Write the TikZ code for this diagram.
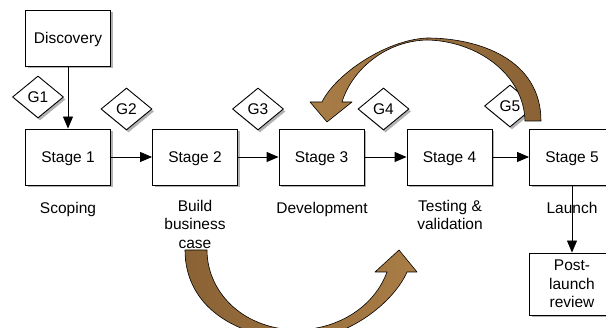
\documentclass[tikz,border=0pt]{standalone}
\usepackage{fontspec}
\setmainfont{Liberation Sans}
\usetikzlibrary{arrows.meta,shapes.geometric,shadows,positioning}
\definecolor{lightbrown}{HTML}{A97D46}
\definecolor{darkbrown}{HTML}{8A6235}
\tikzset{
	box/.style={rectangle,draw,fill=white,line width=0.9pt,minimum width=85pt,minimum height=56pt,inner sep=2pt,align=center,drop shadow={shadow xshift=2pt,shadow yshift=-2.5pt,fill=black,opacity=0.3}},
	stage/.style={box,text height=11pt,text depth=0pt},
	gate/.style={diamond,draw,fill=white,line width=0.9pt,minimum width=51pt,minimum height=42pt,inner sep=0pt,drop shadow={shadow xshift=2pt,shadow yshift=-2.5pt,fill=black,opacity=0.3}},
	steplabel/.style={anchor=north,inner sep=0pt,align=center,execute at begin node=\strut},
	flow/.style={-{Triangle[length=12pt,width=10pt]},line width=0.9pt},
	loopback/.style={draw=black,line width=0.6pt,line join=round}
}

\begin{document}
\begin{tikzpicture}[x=1pt,y=-1pt,font=\fontsize{15.5}{18.5}\selectfont]
	\useasboundingbox (0,0) rectangle (606,328);
	%%%gates
	\node[gate] (g1) at (38,97) {G1};
	\node[gate] (g2) at (126.5,109) {G2};
	\node[gate] (g3) at (258,109) {G3};
	\node[gate] (g4) at (383.5,109) {G4};
	\node[gate] (g5) at (510,106) {G5};
	
	%%%stages
	\node[stage] (disc) at (68,38) {Discovery};
	\node[stage] (st1) at (68,157) {Stage 1};
	\node[stage] (st2) at (195,157) {Stage 2};
	\node[stage] (st3) at (321.5,157) {Stage 3};
	\node[stage] (st4) at (449.5,157) {Stage 4};
	\node[stage] (st5) at (572,157) {Stage 5};
	\node[box,minimum height=62pt] (post) at (572,284) {Post-\\launch\\review};
	
	\node[steplabel] (lab1) at (68,200) {Scoping};
	\node[steplabel] (lab2) at (195,200) {Build\\business\\case};
	\node[steplabel] (lab3) at (322,200) {Development};
	\node[steplabel] (lab4) at (450,200) {Testing \&\\validation};
	\node[steplabel] (lab5) at (572,200) {Launch};
	
	\draw[flow] (disc) -- (st1);
	\draw[flow] (st1) -- (st2);
	\draw[flow] (st2) -- (st3);
	\draw[flow] (st3) -- (st4);
	\draw[flow] (st4) -- (st5);
	\draw[flow] (st5) -- (post);
	
	%%%rework loops
	\path[loopback,left color=lightbrown,right color=darkbrown]
	(541,121) .. controls (541,60) and (480,38) .. (427,38)
	.. controls (385,40) and (335,75) .. (322,102)
	-- (310,102) -- (327,122) -- (352,102) -- (342,102)
	.. controls (352,70) and (385,41) .. (427,40)
	.. controls (478,41) and (524,75) .. (525,121) -- cycle;
	
	\path[loopback,left color=darkbrown,right color=lightbrown]
	(185,250) .. controls (185,300) and (225,335) .. (295,340)
	.. controls (350,340) and (395,300) .. (407,272)
	-- (417,272) -- (399,250) -- (375,272) -- (387,272)
	.. controls (375,305) and (340,330) .. (295,330)
	.. controls (240,328) and (207,290) .. (207,250) -- cycle;
\end{tikzpicture}
\end{document}
